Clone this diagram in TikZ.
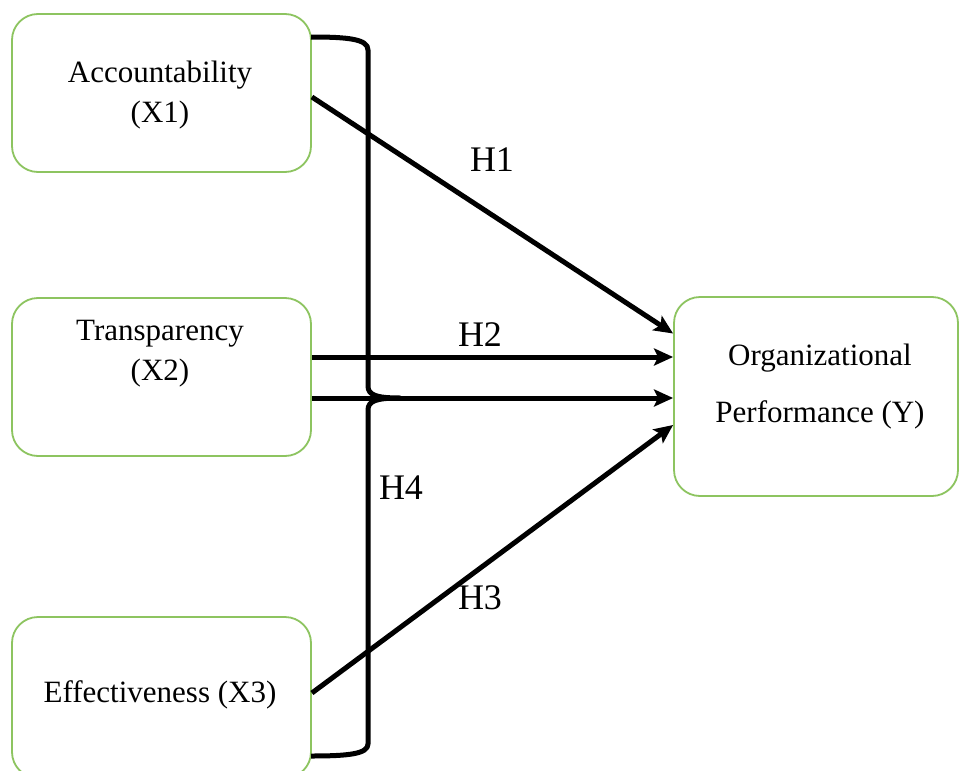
\documentclass[tikz,border=0pt]{standalone}
\usepackage{fontspec}
\setmainfont{Liberation Serif}
\usetikzlibrary{arrows.meta}
\definecolor{boxgreen}{RGB}{141,196,96}
\tikzset{
  varbox/.style={draw=boxgreen, line width=1.8pt, rounded corners=26pt, fill=white, inner sep=0pt},
  boxtext/.style={font=\fontsize{31}{40}\selectfont, align=center, inner sep=0pt},
  hlabel/.style={font=\fontsize{36}{40}\selectfont, inner sep=0pt},
  hyparrow/.style={line width=5pt, -{Stealth[length=19pt,width=17pt,inset=4pt]}},
  bracepath/.style={line width=5pt, line join=round}
}
\begin{document}
\begin{tikzpicture}[x=1pt,y=-1pt]
\clip (0,0) rectangle (959,771);
\fill[white] (0,0) rectangle (959,771);
% boxes
\node[varbox, minimum width=299pt, minimum height=158pt] (x1) at (161.5,93) {};
\node[varbox, minimum width=299pt, minimum height=158pt] (x2) at (161.5,377) {};
\node[varbox, minimum width=299pt, minimum height=161pt] (x3) at (161.5,697.5) {};
\node[varbox, minimum width=284pt, minimum height=199pt] (yb) at (816,396.5) {};
% texts
\node[boxtext] (t1) at (160,95) {Accountability\\(X1)};
\node[boxtext] (t2) at (160,354) {Transparency\\(X2)};
\node[boxtext] (t3) at (160,695) {Effectiveness (X3)};
\node[boxtext, font=\fontsize{31}{57}\selectfont] (t4) at (820,387) {Organizational\\Performance (Y)};
% brace
\coordinate (bt) at (311,37);
\coordinate (bm) at (400,398);
\coordinate (bb) at (311,756);
\draw[bracepath] (bt) .. controls (348,37) and (368,39) .. (368,50) -- (368,386)
  .. controls (368,395) and (376,398) .. (bm)
  .. controls (376,398) and (368,401) .. (368,410) -- (368,744)
  .. controls (368,754) and (348,756) .. (bb);
% arrows
\draw[hyparrow] ([yshift=-4pt]x1.east) -- ([yshift=63pt]yb.west);
\draw[hyparrow] ([yshift=20pt]x2.east) -- ([yshift=39.5pt]yb.west);
\draw[hyparrow] ([yshift=-21pt]x2.east) -- ([yshift=-1.5pt]yb.west);
\draw[hyparrow] ([yshift=4.5pt]x3.east) -- ([yshift=-28.5pt]yb.west);
% labels
\node[hlabel] (h1) at (492,160) {H1};
\node[hlabel] (h2) at (480,335) {H2};
\node[hlabel] (h4) at (401,488) {H4};
\node[hlabel] (h3) at (480,598) {H3};
\end{tikzpicture}
\end{document}
